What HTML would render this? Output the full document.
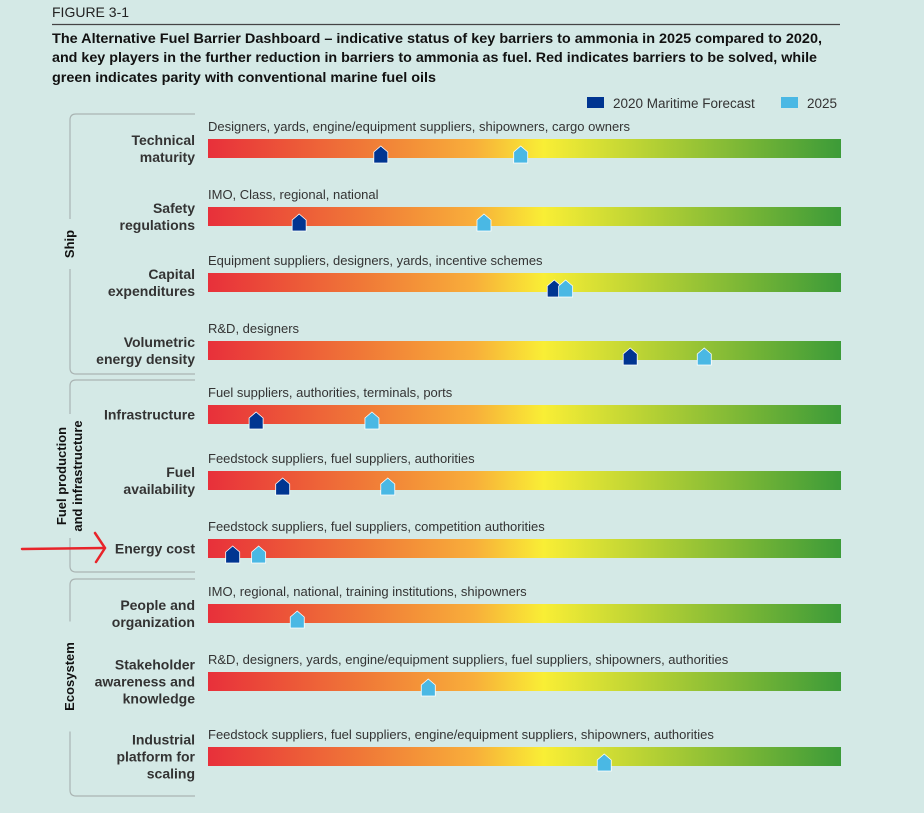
<!DOCTYPE html>
<html><head><meta charset="utf-8"><style>
body{margin:0;background:#d4e9e6;}
svg{display:block;font-family:"Liberation Sans",sans-serif;}
</style></head><body>
<svg id="chart" width="924" height="813" viewBox="0 0 924 813">
<defs>
<linearGradient id="grad" x1="0" x2="1" y1="0" y2="0">
<stop offset="0" stop-color="#e8303a"/><stop offset="0.25" stop-color="#f07a37"/><stop offset="0.42" stop-color="#f8ae3a"/><stop offset="0.53" stop-color="#f9ee35"/><stop offset="0.68" stop-color="#bdd434"/><stop offset="1" stop-color="#3c9b38"/>
</linearGradient>
</defs>
<rect width="924" height="813" fill="#d4e9e6"/>
<text x="52" y="17" font-size="14" fill="#222">FIGURE 3-1</text>
<line x1="52" y1="24.5" x2="840" y2="24.5" stroke="#444" stroke-width="1.2"/>
<g font-size="14" font-weight="bold" fill="#111">
<text x="52" y="43" textLength="770" lengthAdjust="spacingAndGlyphs">The Alternative Fuel Barrier Dashboard – indicative status of key barriers to ammonia in 2025 compared to 2020,</text>
<text x="52" y="62" textLength="765" lengthAdjust="spacingAndGlyphs">and key players in the further reduction in barriers to ammonia as fuel. Red indicates barriers to be solved, while</text>
<text x="52" y="82" textLength="384" lengthAdjust="spacingAndGlyphs">green indicates parity with conventional marine fuel oils</text>
</g>
<g>
<rect x="587" y="97" width="17" height="11" fill="#003591"/>
<text x="613" y="108" font-size="13.5" fill="#333">2020 Maritime Forecast</text>
<rect x="781" y="97" width="17" height="11" fill="#4ab8e4"/>
<text x="807" y="108" font-size="13.5" fill="#333">2025</text>
</g>
<g id="groups"></g>
<g id="rows"></g>
<g stroke="#e8242a" stroke-width="2.5" fill="none" stroke-linecap="round">
<line x1="22" y1="549" x2="104" y2="548"/>
<polyline points="95,533 105,548 96,562"/>
</g>
</svg>
<script>
const categories = ["Technical|maturity","Safety|regulations","Capital|expenditures","Volumetric|energy density","Infrastructure","Fuel|availability","Energy cost","People and|organization","Stakeholder|awareness and|knowledge","Industrial|platform for|scaling"];
const players = ["Designers, yards, engine/equipment suppliers, shipowners, cargo owners","IMO, Class, regional, national","Equipment suppliers, designers, yards, incentive schemes","R&D, designers","Fuel suppliers, authorities, terminals, ports","Feedstock suppliers, fuel suppliers, authorities","Feedstock suppliers, fuel suppliers, competition authorities","IMO, regional, national, training institutions, shipowners","R&D, designers, yards, engine/equipment suppliers, fuel suppliers, shipowners, authorities","Feedstock suppliers, fuel suppliers, engine/equipment suppliers, shipowners, authorities"];
const values2020 = [27.3, 14.4, 54.7, 66.7, 7.6, 11.8, 3.9, null, null, null];
const values2025 = [49.4, 43.6, 56.5, 78.4, 25.9, 28.4, 8.0, 14.1, 34.8, 62.6];
const groupNames = ["Ship","Fuel production|and infrastructure","Ecosystem"];
const groupRanges = [[0,3],[4,6],[7,9]];

const NS="http://www.w3.org/2000/svg";
const barTops=[139,207,273,341,405,471,539,604,672,747];
const X0=208,X1=841,BH=19;
const xScale=v=>X0+(X1-X0)*v/100;
function mk(tag,attrs,parent){const e=document.createElementNS(NS,tag);for(const k in attrs)e.setAttribute(k,attrs[k]);parent.appendChild(e);return e;}
const rows=document.getElementById('rows');
function marker(v,color,top,name,parent){
  const cx=xScale(v),t=top+7,b=top+BH+5;
  const p=mk('polygon',{points:`${cx},${t} ${cx+7},${t+6} ${cx+7},${b} ${cx-7},${b} ${cx-7},${t+6}`,fill:color,stroke:'#fff','stroke-width':0.8},parent);
  
  
}
categories.forEach((c,i)=>{
  const top=barTops[i];
  const g=mk('g',{},rows);
  
  
  const pt=mk('text',{x:X0,y:top-8,'font-size':13,fill:'#333'},g);pt.textContent=players[i];
  
  
  const bar=mk('rect',{x:X0,y:top,width:X1-X0,height:BH,fill:'url(#grad)'},g);
  
  
  const lines=c.split('|');
  const mid=top+BH/2+5;
  const lab=mk('text',{'font-size':14,'font-weight':'bold',fill:'#333','text-anchor':'end'},g);
  
  
  lines.forEach((l,j)=>{const ts=mk('tspan',{x:195,y:mid+(j-(lines.length-1)/2)*17},lab);ts.textContent=l;});
  if(values2020[i]!=null) marker(values2020[i],'#003591',top,'marker-2020',g);
  if(values2025[i]!=null) marker(values2025[i],'#4ab8e4',top,'marker-2025',g);
});
const groups=document.getElementById('groups');
groupRanges.forEach((r,k)=>{
  const y0=barTops[r[0]]-25, y1=barTops[r[1]]+BH+(r[1]>=7?30:14);
  const g=mk('g',{},groups);
  
  
  const lines=groupNames[k].split('|');
  const midY=(y0+y1)/2-(k==2?11:0), half=lines.length>1?62:(k==2?55:25);
  mk('path',{d:`M195,${y0} H76 Q70,${y0} 70,${y0+6} V${midY-half} M70,${midY+half} V${y1-6} Q70,${y1} 76,${y1} H195`,stroke:'#aab4b3','stroke-width':1.2,fill:'none'},g);
  const t=mk('text',{'font-size':13,'font-weight':'bold',fill:'#111','text-anchor':'middle',transform:`translate(70,${midY}) rotate(-90)`},g);
  
  
  lines.forEach((l,j)=>{const ts=mk('tspan',{x:0,y:4+(j-(lines.length-1)/2)*16},t);ts.textContent=l;});
});
</script>
</body></html>
